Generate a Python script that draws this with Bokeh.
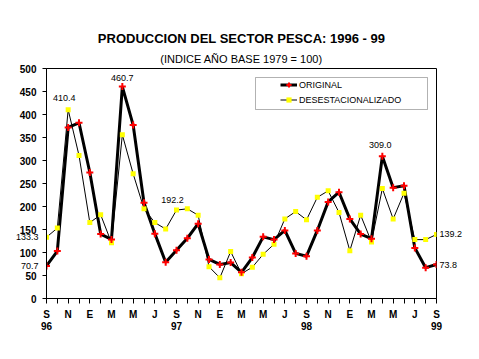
from bokeh.plotting import figure
from bokeh.models import (Range1d, FixedTicker, LinearAxis, Title, Legend,
                          LegendItem, Label, BoxAnnotation, PrintfTickFormatter)
from bokeh.embed import file_html
from bokeh.resources import INLINE

# ---------------- data ----------------
title_text = "PRODUCCION DEL SECTOR PESCA: 1996 - 99"
subtitle_text = "(INDICE AÑO BASE 1979 = 100)"

months = list(range(37))  # Sep 1996 .. Sep 1999

original = [70.7, 103, 372, 382, 274, 140, 128.5, 460.7, 377, 208,
            141, 79, 105, 131, 162.6, 85, 74, 78, 57, 89,
            134, 128, 148, 98, 92, 148, 210, 231, 173, 140,
            130, 309.0, 241, 245, 110, 67, 73.8]

desestacionalizado = [133.3, 153, 410.4, 311, 165, 182, 121, 356, 271, 195,
                      165, 151, 192.2, 195, 181, 69, 45, 102, 54, 68,
                      96, 118, 173, 189, 171, 220, 234, 187, 104, 181,
                      123, 239, 173, 229, 128, 128, 139.2]

x_tick_pos = list(range(0, 37, 2))
x_tick_labels = ["S", "N", "E", "M", "M", "J",
                 "S", "N", "E", "M", "M", "J",
                 "S", "N", "E", "M", "M", "J", "S"]
year_tick_pos = [0, 12, 24, 36]
year_tick_labels = ["96", "97", "98", "99"]
y_ticks = list(range(0, 501, 50))

# annotated points inside the plot: (series, month index)
label_points = [("des", 2), ("orig", 7), ("des", 12), ("orig", 31)]

FONT = "Liberation Sans"

# ---------------- figure ----------------
p = figure(width=479, height=359, output_backend="svg", toolbar_location=None,
           x_range=Range1d(0, 36), y_range=Range1d(0, 500),
           min_border_left=46, min_border_right=43,
           min_border_top=68, min_border_bottom=61,
           title=title_text)
p.background_fill_color = "white"
p.border_fill_color = "white"
p.outline_line_color = "black"
p.outline_line_width = 1
p.xgrid.visible = False
p.ygrid.visible = False

p.title.align = "center"
p.title.text_font = FONT
p.title.text_font_size = "13px"
p.title.text_font_style = "bold"
p.title.text_color = "black"
p.title.standoff = 2
p.add_layout(Title(text=subtitle_text, align="center", text_font=FONT,
                   text_font_size="11px", text_font_style="normal",
                   text_color="black", standoff=8), "above")

# x axis (months)
xa = p.xaxis[0]
xa.ticker = FixedTicker(ticks=x_tick_pos,
                        minor_ticks=[m for m in months if m % 2 == 1])
xa.major_label_overrides = {pos: lab for pos, lab in zip(x_tick_pos, x_tick_labels)}
xa.major_tick_out = 5
xa.major_tick_in = 0
xa.minor_tick_out = 5
xa.minor_tick_in = 0
xa.axis_line_color = "black"
xa.major_tick_line_color = "black"
xa.minor_tick_line_color = "black"
xa.major_label_text_font = FONT
xa.major_label_text_font_style = "bold"
xa.major_label_text_font_size = "10px"
xa.major_label_text_color = "black"
xa.major_label_standoff = 5

# second x axis (years)
ax_year = LinearAxis(ticker=FixedTicker(ticks=year_tick_pos, minor_ticks=[]),
                     major_label_overrides={pos: lab for pos, lab in zip(year_tick_pos, year_tick_labels)},
                     axis_line_color=None, major_tick_line_color=None,
                     minor_tick_line_color=None,
                     major_tick_out=0, major_tick_in=0,
                     major_label_text_font=FONT, major_label_text_font_style="bold",
                     major_label_text_font_size="10px", major_label_text_color="black",
                     major_label_standoff=-1)
p.add_layout(ax_year, "below")

# y axis
ya = p.yaxis[0]
ya.ticker = FixedTicker(ticks=y_ticks, minor_ticks=[])
ya.major_tick_out = 4
ya.major_tick_in = 0
ya.axis_line_color = "black"
ya.major_tick_line_color = "black"
ya.major_label_text_font = FONT
ya.major_label_text_font_style = "bold"
ya.major_label_text_font_size = "10px"
ya.major_label_text_color = "black"
ya.major_label_standoff = 6

# first / last values written beside the axes
first_vals = [desestacionalizado[0], original[0]]
last_vals = [desestacionalizado[-1], original[-1]]
ax_first = LinearAxis(ticker=FixedTicker(ticks=first_vals, minor_ticks=[]),
                      formatter=PrintfTickFormatter(format="%.1f"),
                      axis_line_color=None, major_tick_line_color=None,
                      minor_tick_line_color=None, major_tick_out=0, major_tick_in=0,
                      major_label_text_font=FONT, major_label_text_font_style="normal",
                      major_label_text_font_size="9px", major_label_text_color="black",
                      major_label_standoff=-22)
p.add_layout(ax_first, "left")
ax_last = LinearAxis(ticker=FixedTicker(ticks=last_vals, minor_ticks=[]),
                     formatter=PrintfTickFormatter(format="%.1f"),
                     axis_line_color=None, major_tick_line_color=None,
                     minor_tick_line_color=None, major_tick_out=0, major_tick_in=0,
                     major_label_text_font=FONT, major_label_text_font_style="normal",
                     major_label_text_font_size="9px", major_label_text_color="black",
                     major_label_standoff=3)
p.add_layout(ax_last, "right")

# ---------------- series ----------------
l_orig = p.line(months, original, line_color="black", line_width=3)
l_des = p.line(months, desestacionalizado, line_color="black", line_width=1)
m_des = p.scatter(months, desestacionalizado, marker="square", size=5,
                  fill_color="yellow", line_color=None)
m_orig = p.scatter(months, original, marker="cross", size=7,
                   line_color="red", line_width=2)

# ---------------- legend ----------------
legend = Legend(items=[LegendItem(label="ORIGINAL", renderers=[l_orig, m_orig]),
                       LegendItem(label="DESESTACIONALIZADO", renderers=[l_des, m_des])],
                location=(232, 190), padding=2, spacing=2,
                glyph_width=17, glyph_height=13, label_height=13,
                label_standoff=2, label_text_font=FONT,
                label_text_font_size="9px", label_text_color="black",
                border_line_alpha=0, background_fill_alpha=0)
p.add_layout(legend)
p.add_layout(BoxAnnotation(left=209, right=381, bottom=189, top=221,
                           left_units="screen", right_units="screen",
                           bottom_units="screen", top_units="screen",
                           fill_alpha=0, line_color="black", line_width=1))

# ---------------- value labels ----------------
label_style = {
    ("des", 2): dict(x_offset=-4, y_offset=11.7, text_align="center"),
    ("orig", 7): dict(x_offset=0, y_offset=8.7, text_align="center"),
    ("des", 12): dict(x_offset=-4, y_offset=9.7, text_align="center"),
    ("orig", 31): dict(x_offset=-2, y_offset=11.7, text_align="center"),
}
series_map = {"orig": original, "des": desestacionalizado}
for key in label_points:
    s, i = key
    v = series_map[s][i]
    p.add_layout(Label(x=months[i], y=v, text=f"{v:.1f}", text_font=FONT,
                       text_font_size="9px", text_baseline="middle",
                       text_color="black", **label_style[key]))

open("out.html", "w").write(file_html(p, INLINE))
